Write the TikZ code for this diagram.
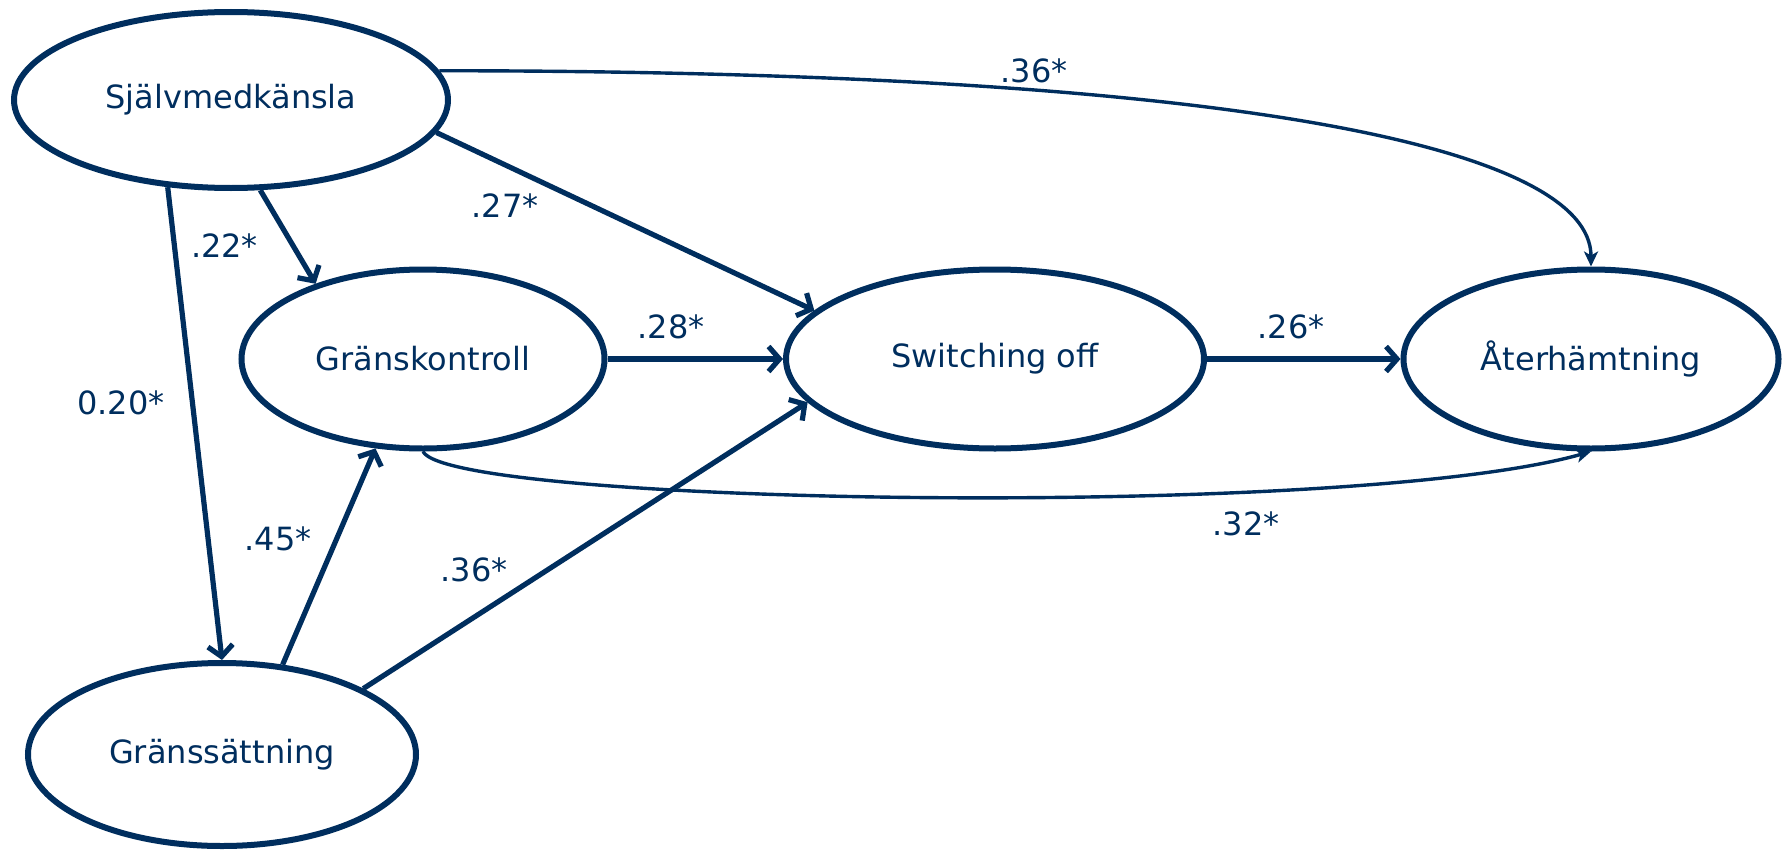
\documentclass[tikz,border=0pt]{standalone}
\usepackage{fontspec}
\setmainfont{DejaVu Sans}
\usetikzlibrary{arrows.meta,shapes.geometric}
\definecolor{navy}{RGB}{0,46,94}
\begin{document}
\begin{tikzpicture}[x=1pt,y=-1pt,
  every node/.style={font=\fontsize{32}{38}\selectfont, text=navy},
  latent/.style={ellipse, draw=navy, line width=6pt, inner sep=0pt, fill=white},
  path coef/.style={inner sep=0pt},
  thickarrow/.style={draw=navy, line width=5.2pt, -{Straight Barb[length=11pt,width=25pt]}},
  thinarrow/.style={draw=navy, line width=3.4pt, -{Stealth[length=15pt,width=14pt,inset=4pt]}}]
\useasboundingbox (0,0) rectangle (1787,851);

\node[latent, minimum width=434pt, minimum height=176pt] (S) at (231,100) {Självmedkänsla};
\node[latent, minimum width=363pt, minimum height=179pt] (GK) at (423,359) {Gränskontroll};
\node[latent, minimum width=418pt, minimum height=179pt] (SO) at (995,359) {Switching off};
\node[latent, minimum width=375pt, minimum height=179pt] (AH) at (1591,359) {Återhämtning};
\node[latent, minimum width=388pt, minimum height=183pt] (GS) at (222,754.5) {Gränssättning};

% thin curved paths
\draw[thinarrow] (S.8) .. controls (1250,71) and (1591,150) .. (AH.north);
\draw[thinarrow] (GK.south) .. controls (450,505) and (1350,520) .. (AH.south);

% thick straight paths
\draw[thickarrow] (S.-9) -- (SO.165);
\draw[thickarrow] (S.-72.7) -- (GK.145);
\draw[thickarrow] (S.-126.3) -- (GS.north);
\draw[thickarrow] (GK.east) -- (SO.west);
\draw[thickarrow] (SO.east) -- (AH.west);
\draw[thickarrow] (GS.56.7) -- (GK.-118.3);
\draw[thickarrow] (GS.25.9) -- (SO.193.8);

% coefficients
\node[path coef] (c1) at (1034,70.7) {.36*};
\node[path coef] (c2) at (505,206) {.27*};
\node[path coef] (c3) at (224.5,246) {.22*};
\node[path coef] (c4) at (121,403) {0.20*};
\node[path coef] (c5) at (671,327) {.28*};
\node[path coef] (c6) at (1291,327) {.26*};
\node[path coef] (c7) at (278,539) {.45*};
\node[path coef] (c8) at (474,570) {.36*};
\node[path coef] (c9) at (1246,524) {.32*};
\end{tikzpicture}
\end{document}
